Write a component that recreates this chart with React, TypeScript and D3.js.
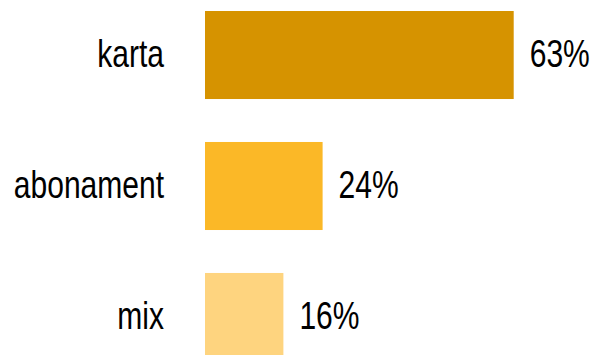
import React from "react";
import * as d3 from "d3";

const categories: string[] = ["karta", "abonament", "mix"];
const values: number[] = [63, 24, 16];
const valueLabels: string[] = ["63%", "24%", "16%"];
const colors: string[] = ["#D69300", "#FBB827", "#FED47F"];

const W = 594;
const H = 355;
const FONT = "'Liberation Sans', Arial, sans-serif";
const FS = 38;
const SX = 0.79;

export default function App() {
  const x = d3.scaleLinear().domain([0, 100]).range([205, 695]);
  const y = d3
    .scaleBand<string>()
    .domain(categories)
    .range([11, 361])
    .paddingInner(0.328)
    .paddingOuter(0);

  return (
    <svg
      width={W}
      height={H}
      style={{ position: "absolute", left: 0, top: 0, display: "block", background: "#fff" }}
    >
      {categories.map((c, i) => {
        const y0 = y(c)!;
        const cy = y0 + y.bandwidth() / 2;
        return (
          <g key={c}>
            <rect
              x={x(0)}
              y={y0}
              width={x(values[i]) - x(0)}
              height={y.bandwidth()}
              fill={colors[i]}
            />
            <text
              transform={`translate(${164},${cy + 12}) scale(${SX},1)`}
              textAnchor="end"
              fontFamily={FONT}
              fontSize={FS}
              fill="#000"
            >
              {c}
            </text>
            <text
              transform={`translate(${x(values[i]) + 16},${cy + 12}) scale(${SX},1)`}
              textAnchor="start"
              fontFamily={FONT}
              fontSize={FS}
              fill="#000"
            >
              {valueLabels[i]}
            </text>
          </g>
        );
      })}
    </svg>
  );
}
